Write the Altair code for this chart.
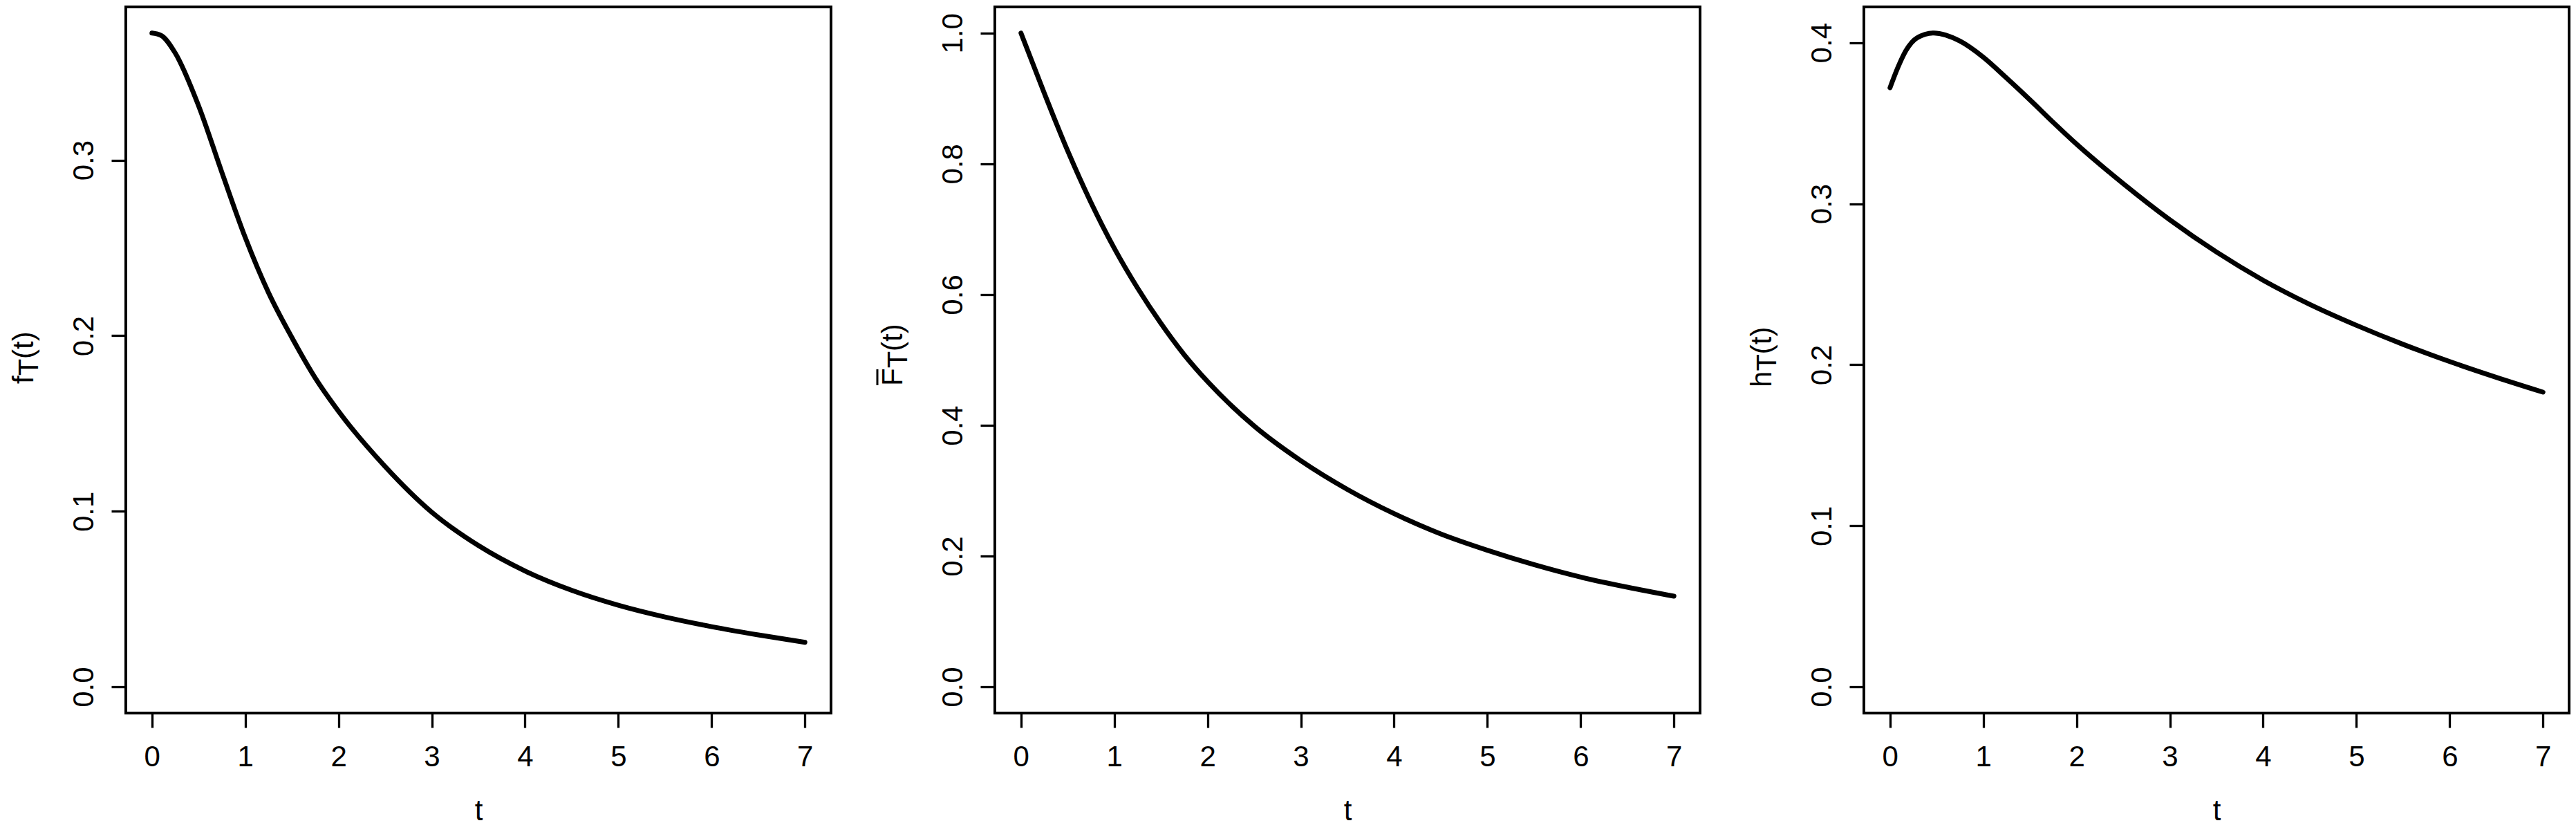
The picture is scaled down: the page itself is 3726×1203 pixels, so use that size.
import altair as alt
import pandas as pd

# ---- data ----
t_f = [0, 0.1, 0.25, 0.5, 0.75, 1, 1.25, 1.5, 1.75, 2, 2.5, 3, 3.5, 4, 4.5, 5, 5.5, 6, 6.5, 7]
f_vals = [0.3724, 0.371, 0.361, 0.331, 0.293, 0.256, 0.2245, 0.199, 0.176, 0.157, 0.1255,
          0.0995, 0.0805, 0.066, 0.0550, 0.0465, 0.0398, 0.0343, 0.0296, 0.0254]

t_s = [0, 0.25, 0.5, 0.75, 1, 1.25, 1.5, 1.75, 2, 2.5, 3, 3.5, 4, 4.5, 5, 5.5, 6, 6.5, 7]
s_vals = [1.0, 0.908, 0.820, 0.741, 0.671, 0.610, 0.556, 0.508, 0.467, 0.399, 0.346, 0.302,
          0.265, 0.234, 0.209, 0.187, 0.168, 0.1525, 0.1388]

t_h = [0, 0.08, 0.17, 0.29, 0.47, 0.75, 1, 1.25, 1.5, 1.75, 2, 2.5, 3, 3.5, 4, 4.5, 5, 5.5, 6, 6.5, 7]
h_vals = [0.372, 0.384, 0.395, 0.403, 0.406, 0.401, 0.391, 0.378, 0.3645, 0.3505, 0.337, 0.3125,
          0.290, 0.270, 0.2525, 0.2375, 0.2245, 0.2127, 0.2020, 0.1922, 0.1830]

x_ticks = [0, 1, 2, 3, 4, 5, 6, 7]
f_ticks = [0.0, 0.1, 0.2, 0.3]
s_ticks = [0.0, 0.2, 0.4, 0.6, 0.8, 1.0]
h_ticks = [0.0, 0.1, 0.2, 0.3, 0.4]

x_domain = [-0.28, 7.28]
f_domain = [-0.0149, 0.3873]
s_domain = [-0.04, 1.04]
h_domain = [-0.01624, 0.4222]

FONT = "Liberation Sans"
FS = 42
W, H = 1020, 1021
TB = -134      # baseline of rotated y titles (relative to plot left)
TS = -127      # baseline of the subscript


def panel(ts, vs, yticks, ydom, title_parts, overline=None):
    df = pd.DataFrame({"t": ts, "v": vs})
    x = alt.X(
        "t:Q",
        scale=alt.Scale(domain=x_domain, nice=False, zero=False),
        axis=alt.Axis(
            values=x_ticks, format="d", title="t", grid=False, domain=False,
            ticks=True, tickSize=21, tickWidth=3.3, tickColor="black",
            labelFont=FONT, labelFontSize=FS, labelColor="black",
            labelBaseline="alphabetic", labelAlign="center", labelPadding=55,
            labelFlush=False, labelOverlap=False,
            titleFont=FONT, titleFontSize=FS, titleFontWeight="normal",
            titleColor="black", titleBaseline="alphabetic", titleAlign="center",
            titleX=W / 2, titleY=154,
        ),
    )
    y = alt.Y(
        "v:Q",
        scale=alt.Scale(domain=ydom, nice=False, zero=False),
        axis=alt.Axis(
            values=yticks, format=".1f", title=None, grid=False, domain=False,
            ticks=True, tickSize=21, tickWidth=3.3, tickColor="black",
            labelFont=FONT, labelFontSize=FS, labelColor="black",
            labelAngle=270, labelAlign="center", labelBaseline="alphabetic",
            labelPadding=27, labelFlush=False, labelOverlap=False,
        ),
    )
    line = alt.Chart(df).mark_line(
        color="black", strokeWidth=7, strokeCap="round", strokeJoin="round",
        interpolate="monotone",
    ).encode(x=x, y=y)
    layers = [line]
    one = pd.DataFrame({"k": [0]})
    for txt, fs, xp, yp in title_parts:
        layers.append(
            alt.Chart(one).mark_text(
                text=txt, angle=270, align="left", baseline="alphabetic",
                font=FONT, fontSize=fs, color="black",
            ).encode(x=alt.value(xp), y=alt.value(yp))
        )
    if overline is not None:
        xo, y1, y2 = overline
        layers.append(
            alt.Chart(one).mark_rule(color="black", strokeWidth=3).encode(
                x=alt.value(xo), y=alt.value(y1), y2=alt.value(y2)
            )
        )
    return alt.layer(*layers).properties(width=W, height=H)


p1 = panel(t_f, f_vals, f_ticks, f_domain,
           [("f", 42, TB, 545), ("T", 40, TS, 533.3), ("(t)", 42, TB, 508.9)])
p2 = panel(t_s, s_vals, s_ticks, s_domain,
           [("F", 42, TB, 548), ("T", 40, TS, 522.3), ("(t)", 42, TB, 497.9)],
           overline=(TB - 36, 547, 524))
p3 = panel(t_h, h_vals, h_ticks, h_domain,
           [("h", 42, TB, 550), ("T", 40, TS, 526.6), ("(t)", 42, TB, 502.2)])

chart = alt.hconcat(p1, p2, p3, spacing=237, bounds="flush").properties(
    padding={"left": 4, "top": 0, "right": 0, "bottom": 0},
    background="white",
).configure_view(
    stroke="black", strokeWidth=4
)

chart.save("out.html", embed_options={"renderer": "svg", "actions": False})
